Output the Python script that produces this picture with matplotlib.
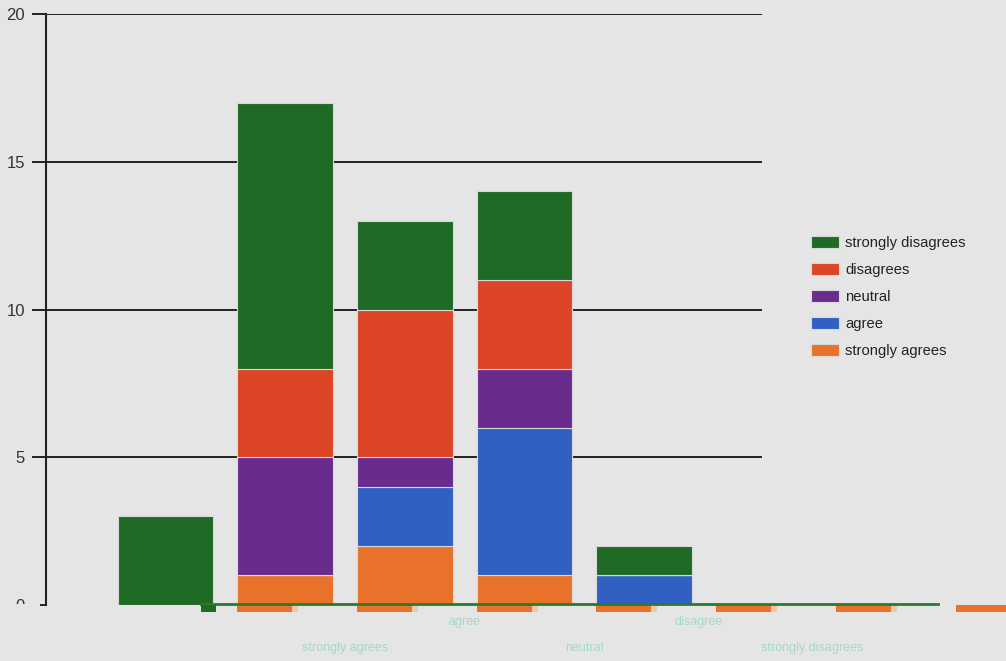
import matplotlib
matplotlib.use("Agg")
import matplotlib.pyplot as plt
import matplotlib.transforms as mtransforms
from matplotlib.patches import Rectangle
import numpy as np

# ---------------- data ----------------
positions = [1, 2, 3, 4, 5]
series_names = ["strongly agrees", "agree", "neutral", "disagrees", "strongly disagrees"]
strongly_agrees = [0, 1, 2, 1, 0]
agree = [0, 0, 2, 5, 1]
neutral = [0, 4, 1, 2, 0]
disagrees = [0, 3, 5, 3, 0]
strongly_disagrees = [3, 9, 3, 3, 1]
colors = ["#e8722a", "#3060c2", "#6a2c8c", "#dc4526", "#1f6b25"]

x_labels = ["strongly agrees", "agree", "neutral", "disagree", "strongly disagrees"]
x_label_pos = [2.5, 3.5, 4.5, 5.45, 6.4]

y_ticks = [0, 5, 10, 15, 20]

# render artefact below the baseline (orange ghost bars)
ghost_pos = [2, 3, 4, 5, 6, 7, 8]
ghost_val = [-0.22, -0.22, -0.22, -0.22, -0.22, -0.22, -0.22]

# ---------------- figure ----------------
W, H = 1006, 661
fig = plt.figure(figsize=(W / 100, H / 100), dpi=100)
bg = "#e5e5e5"
fig.patch.set_facecolor(bg)
plt.rcParams["font.family"] = ["Liberation Sans", "DejaVu Sans"]

ax = fig.add_axes([45.75 / W, 56 / H, (762 - 45.75) / W, (605 - 14) / H])
ax.set_facecolor(bg)
ax.set_xlim(0, 6 * (762 - 45.75) / (764 - 45.75))
ax.set_ylim(0, 20)

stack = [strongly_agrees, agree, neutral, disagrees, strongly_disagrees]
bottom = np.zeros(len(positions))
for name, vals, c in zip(series_names, stack, colors):
    vals = np.array(vals, dtype=float)
    ax.bar(positions, vals, width=0.8, bottom=bottom, color=c,
           edgecolor="#d8d8d8", linewidth=0.8, label=name, zorder=3)
    bottom += vals

# gridlines
for t in y_ticks[1:]:
    ax.axhline(t, color="#222222", linewidth=1.4, zorder=1)
ax.set_yticks(y_ticks)
ax.set_yticklabels([str(t) for t in y_ticks], fontsize=12, color="#333333")
ax.tick_params(axis="y", length=10, width=1.4, color="#222222", pad=5)
ax.set_xticks([])
for s in ["top", "right", "bottom"]:
    ax.spines[s].set_visible(False)
ax.spines["left"].set_color("#222222")
ax.spines["left"].set_linewidth(1.5)

# ghost artefacts below baseline
ax.bar(np.array(ghost_pos) - 0.4, ghost_val, width=0.46, align="edge",
       color="#e8722a", linewidth=0, zorder=2, clip_on=False)
ax.bar(np.array(ghost_pos) + 0.06, ghost_val, width=0.05, align="edge",
       color="#f0c8a8", linewidth=0, zorder=2, clip_on=False)
ax.plot([1.3, 7.45], [0.03, 0.03], color="#2a7a30", linewidth=2, zorder=4, clip_on=False)
ax.bar([1.3], [-0.25], width=0.12, align="edge", color="#1f6b25", zorder=4, clip_on=False)

# cover the lower half of the "0" tick label (it is cut in the reference)
fig.patches.append(Rectangle((0, 0), 40 / W, (661 - 604) / H, transform=fig.transFigure,
                             facecolor=bg, edgecolor="none", zorder=10))

# staggered faint category labels
trans = mtransforms.blended_transform_factory(ax.transData, fig.transFigure)
for i, (lab, xp) in enumerate(zip(x_labels, x_label_pos)):
    yy = (661 - 648) / H if i % 2 == 0 else (661 - 622) / H
    ax.text(xp, yy, lab, transform=trans, ha="center", va="center",
            fontsize=9, color="#a6d8c4", clip_on=False)

# legend (reverse order: strongly disagrees on top)
handles, labels = ax.get_legend_handles_labels()
leg = fig.legend(handles[::-1], labels[::-1], loc="upper left",
                 bbox_to_anchor=(798 / W, 1 - 223 / H), frameon=False,
                 fontsize=10.6, handlelength=1.9, handleheight=0.85,
                 handletextpad=0.42, labelspacing=0.88)
for t in leg.get_texts():
    t.set_color("#222222")

fig.savefig("out.png", dpi=100, facecolor=bg)
